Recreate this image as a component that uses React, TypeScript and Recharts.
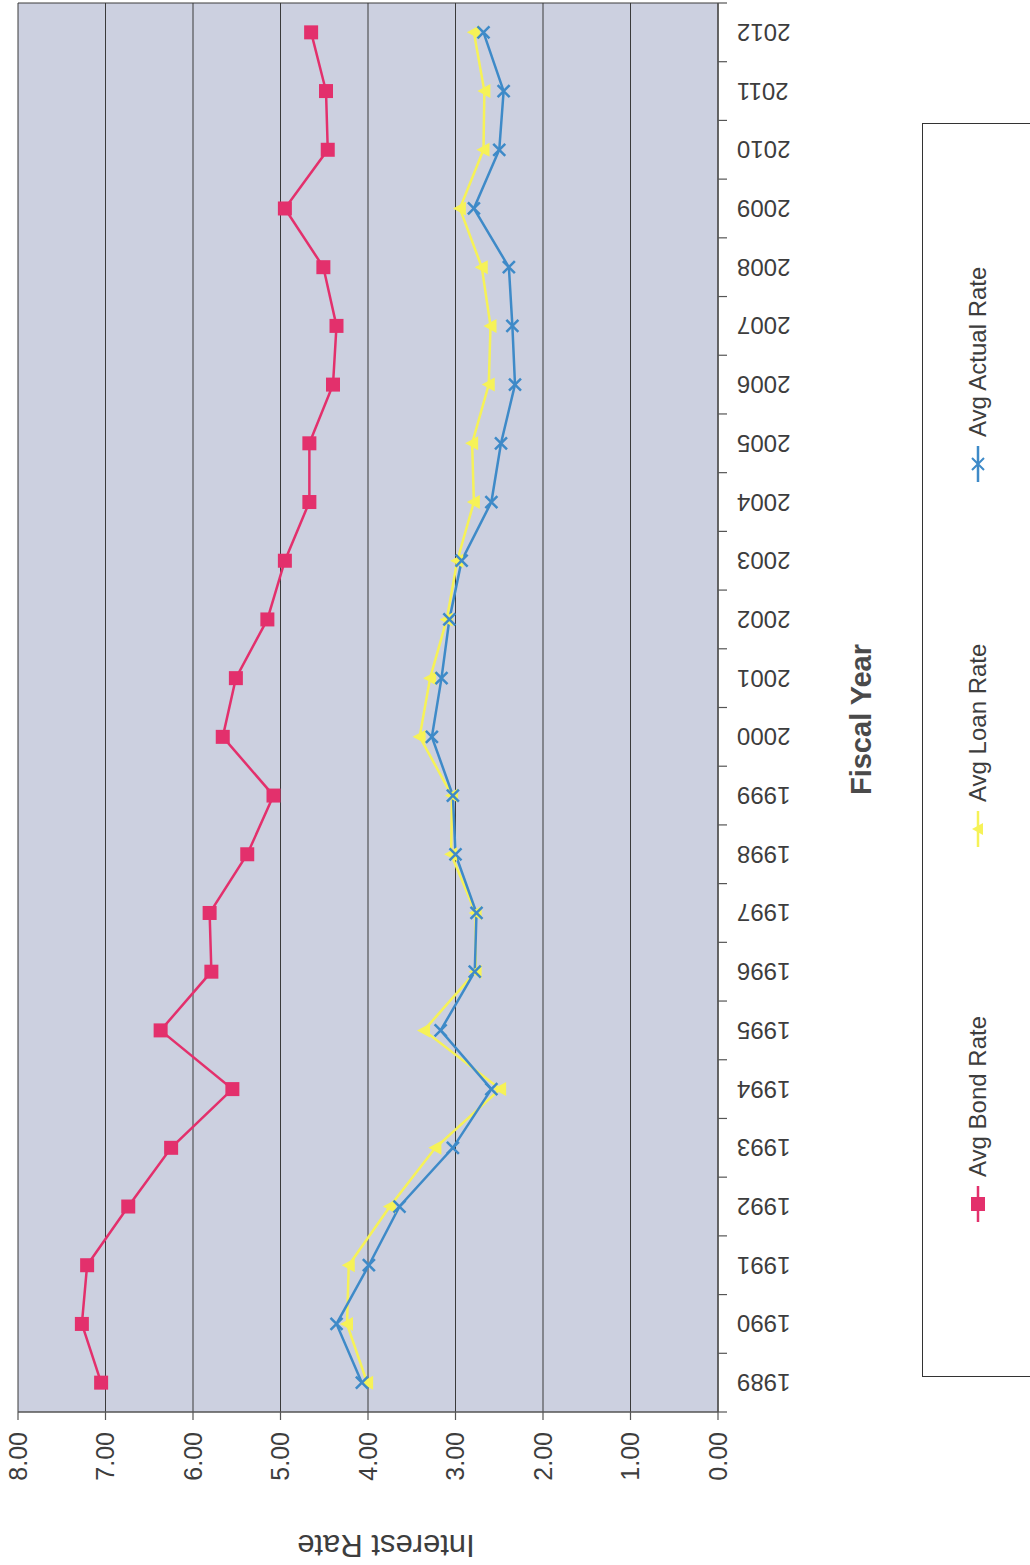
import React from 'react';
import { LineChart, Line, XAxis, YAxis, CartesianGrid, Legend } from 'recharts';

// ---------- data ----------
const years = ['1989', '1990', '1991', '1992', '1993', '1994', '1995', '1996', '1997', '1998', '1999', '2000',
  '2001', '2002', '2003', '2004', '2005', '2006', '2007', '2008', '2009', '2010', '2011', '2012'];
const bondRate = [7.05, 7.27, 7.21, 6.74, 6.25, 5.55, 6.37, 5.79, 5.81, 5.38, 5.08, 5.66,
  5.51, 5.15, 4.95, 4.67, 4.67, 4.40, 4.36, 4.51, 4.95, 4.46, 4.48, 4.65];
const loanRate = [4.01, 4.24, 4.22, 3.75, 3.23, 2.49, 3.36, 2.77, 2.77, 3.05, 3.04, 3.41,
  3.29, 3.10, 2.98, 2.79, 2.81, 2.62, 2.60, 2.70, 2.95, 2.68, 2.67, 2.79];
const actualRate = [4.07, 4.36, 3.99, 3.64, 3.03, 2.59, 3.17, 2.78, 2.76, 3.00, 3.03, 3.27,
  3.16, 3.07, 2.93, 2.59, 2.48, 2.32, 2.35, 2.39, 2.79, 2.50, 2.45, 2.68];
const rateTicks = [0, 1, 2, 3, 4, 5, 6, 7, 8];
const seriesNames = { bond: 'Avg Bond Rate', loan: 'Avg Loan Rate', actual: 'Avg Actual Rate' };

const data = years.map((year, i) => ({
  year,
  bond: bondRate[i],
  loan: loanRate[i],
  actual: actualRate[i],
}));

// ---------- style ----------
const PINK = '#E3306C';
const YELLOW = '#F6F257';
const BLUE = '#3E8AC8';
const PLOT_BG = '#CCD0E0';
const GRID = '#3a3a3a';
const AXIS = '#555555';
const TEXT = '#3d3d3d';
const FONT = '"Liberation Sans", Arial, sans-serif';

const CHART_W = 1565;
const CHART_H = 1030;
const MARGIN = { top: 18, right: 3, bottom: 0, left: 0 };
const Y_AXIS_W = 153;
const X_AXIS_H = 312;
const PLOT_W = CHART_W - MARGIN.left - MARGIN.right - Y_AXIS_W;
const HALF_BAND = PLOT_W / years.length / 2;
const X_TICK_SIZE = 9;
const X_TICK_MARGIN = 10;

// ---------- markers ----------
const SquareDot = (props: any) => {
  const { cx, cy } = props;
  if (cx == null || cy == null) return null;
  return <rect x={cx - 7} y={cy - 7} width={14} height={14} fill={PINK} />;
};
const TriangleDot = (props: any) => {
  const { cx, cy } = props;
  if (cx == null || cy == null) return null;
  return <polygon points={`${cx},${cy - 7} ${cx + 7},${cy + 6} ${cx - 7},${cy + 6}`} fill={YELLOW} />;
};
const XDot = (props: any) => {
  const { cx, cy } = props;
  if (cx == null || cy == null) return null;
  return (
    <path
      d={`M${cx - 6},${cy - 6}L${cx + 6},${cy + 6}M${cx - 6},${cy + 6}L${cx + 6},${cy - 6}`}
      stroke={BLUE}
      strokeWidth={2.5}
      fill="none"
    />
  );
};

// ---------- axis ticks / titles ----------
const YearTick = (props: any) => {
  const { x, y, payload, index } = props;
  const axisY = y - X_TICK_SIZE - X_TICK_MARGIN;
  return (
    <g>
      <line x1={x - HALF_BAND} y1={axisY} x2={x - HALF_BAND} y2={axisY + X_TICK_SIZE} stroke={AXIS} strokeWidth={1.2} />
      {index === years.length - 1 ? (
        <line x1={x + HALF_BAND} y1={axisY} x2={x + HALF_BAND} y2={axisY + X_TICK_SIZE} stroke={AXIS} strokeWidth={1.2} />
      ) : null}
      <text
        x={x}
        y={y}
        transform={`rotate(-90 ${x} ${y})`}
        textAnchor="end"
        dominantBaseline="central"
        fontFamily={FONT}
        fontSize={24}
        fill={TEXT}
      >
        {payload.value}
      </text>
    </g>
  );
};

const YTitle = (props: any) => {
  const vb = props.viewBox || { x: 0, y: 0, width: 0, height: 0 };
  const cx = vb.x + 20;
  const cy = vb.y + vb.height / 2 + 18;
  return (
    <text
      x={cx}
      y={cy}
      transform={`rotate(-90 ${cx} ${cy})`}
      textAnchor="middle"
      dominantBaseline="central"
      fontFamily={FONT}
      fontSize={31}
      fill={TEXT}
    >
      Interest Rate
    </text>
  );
};

const XTitle = (props: any) => {
  const vb = props.viewBox || { x: 0, y: 0, width: 0, height: 0 };
  const cx = vb.x + vb.width / 2 - 12;
  const cy = vb.y + 143;
  return (
    <text
      x={cx}
      y={cy}
      textAnchor="middle"
      dominantBaseline="central"
      fontFamily={FONT}
      fontSize={29}
      fontWeight="bold"
      fill="#4a4a4a"
    >
      Fiscal Year
    </text>
  );
};

// ---------- legend ----------
const legendOffsets: Record<string, number> = { bond: 172, loan: 547, actual: 912 };

const LegendIcon = ({ kind, color }: { kind: string; color: string }) => {
  const cx = 18;
  const cy = 12;
  let marker: React.ReactNode = null;
  if (kind === 'bond') marker = <rect x={cx - 7} y={cy - 7} width={14} height={14} fill={color} />;
  if (kind === 'loan') marker = <polygon points={`${cx},${cy - 6} ${cx + 6},${cy + 5} ${cx - 6},${cy + 5}`} fill={color} />;
  if (kind === 'actual')
    marker = (
      <path d={`M${cx - 6},${cy - 6}L${cx + 6},${cy + 6}M${cx - 6},${cy + 6}L${cx + 6},${cy - 6}`} stroke={color} strokeWidth={2} />
    );
  return (
    <svg width={36} height={24} style={{ display: 'block' }}>
      <line x1={0} y1={cy} x2={36} y2={cy} stroke={color} strokeWidth={2.5} />
      {marker}
    </svg>
  );
};

const LegendBox = (props: any) => {
  const payload = props.payload || [];
  return (
    <div
      style={{
        position: 'relative',
        width: '100%',
        height: 160,
        border: '1.5px solid #333',
        boxSizing: 'border-box',
        background: '#ffffff',
      }}
    >
      {payload.map((entry: any) => {
        const key = String(entry.dataKey);
        return (
          <div
            key={key}
            style={{
              position: 'absolute',
              left: (legendOffsets[key] ?? 0) - 18,
              top: 55 - 14,
              height: 28,
              display: 'flex',
              alignItems: 'center',
              whiteSpace: 'nowrap',
            }}
          >
            <LegendIcon kind={key} color={entry.color} />
            <span style={{ marginLeft: 9, fontFamily: FONT, fontSize: 24, color: TEXT, lineHeight: '28px' }}>
              {entry.value}
            </span>
          </div>
        );
      })}
    </div>
  );
};

// ---------- chart ----------
const RateChart = () => (
  <LineChart width={CHART_W} height={CHART_H} data={data} margin={MARGIN}>
    <CartesianGrid
      fill={PLOT_BG}
      stroke={GRID}
      strokeWidth={1}
      horizontal={true}
      vertical={true}
      verticalCoordinatesGenerator={(args: any) => [args.offset.left + args.offset.width]}
    />
    <XAxis
      dataKey="year"
      type="category"
      interval={0}
      padding={{ left: HALF_BAND, right: HALF_BAND }}
      height={X_AXIS_H}
      tickLine={false}
      tickSize={X_TICK_SIZE}
      tickMargin={X_TICK_MARGIN}
      axisLine={{ stroke: AXIS, strokeWidth: 1.5 }}
      tick={(p: any) => <YearTick {...p} />}
      label={{ content: (p: any) => <XTitle {...p} /> }}
    />
    <YAxis
      type="number"
      domain={[0, 8]}
      ticks={rateTicks}
      width={Y_AXIS_W}
      tickSize={8}
      tickMargin={12}
      interval={0}
      tickFormatter={(v: number) => v.toFixed(2)}
      axisLine={{ stroke: AXIS, strokeWidth: 1.5 }}
      tickLine={{ stroke: AXIS, strokeWidth: 1.2 }}
      tick={{ fontFamily: FONT, fontSize: 25, fill: TEXT }}
      label={{ content: (p: any) => <YTitle {...p} /> }}
    />
    <Legend
      layout="horizontal"
      verticalAlign="middle"
      align="center"
      wrapperStyle={{ left: 188, top: 922, width: 1254, height: 108, overflow: 'visible' }}
      content={(p: any) => <LegendBox {...p} />}
    />
    <Line
      dataKey="bond"
      name={seriesNames.bond}
      stroke={PINK}
      strokeWidth={2.5}
      dot={(p: any) => <SquareDot key={`b${p.index}`} {...p} />}
      activeDot={false}
      isAnimationActive={false}
    />
    <Line
      dataKey="loan"
      name={seriesNames.loan}
      stroke={YELLOW}
      strokeWidth={2.5}
      dot={(p: any) => <TriangleDot key={`l${p.index}`} {...p} />}
      activeDot={false}
      isAnimationActive={false}
    />
    <Line
      dataKey="actual"
      name={seriesNames.actual}
      stroke={BLUE}
      strokeWidth={2.5}
      dot={(p: any) => <XDot key={`a${p.index}`} {...p} />}
      activeDot={false}
      isAnimationActive={false}
    />
  </LineChart>
);

export default function App() {
  return (
    <div
      style={{
        position: 'absolute',
        left: 0,
        top: 0,
        width: 1030,
        height: 1565,
        overflow: 'hidden',
        background: '#ffffff',
      }}
    >
      <div
        style={{
          position: 'absolute',
          left: 0,
          top: 0,
          width: CHART_W,
          height: CHART_H,
          transformOrigin: '0 0',
          transform: `translate(0px, ${CHART_W}px) rotate(-90deg)`,
        }}
      >
        <RateChart />
      </div>
    </div>
  );
}
